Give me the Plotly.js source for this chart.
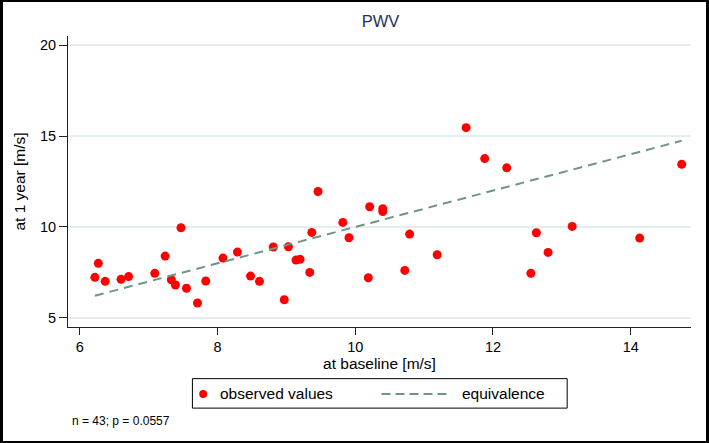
<!DOCTYPE html>
<html>
<head>
<meta charset="utf-8">
<script src="https://cdn.plot.ly/plotly-3.0.1.min.js"></script>
<style>
html,body{margin:0;padding:0;background:#fff;}
#wrap{position:relative;width:709px;height:443px;}
#chart{width:709px;height:443px;}
#frame{position:absolute;left:0;top:0;width:709px;height:443px;box-sizing:border-box;border-style:solid;border-color:#000;border-width:2px 3px 2px 3px;pointer-events:none;}
</style>
</head>
<body>
<div id="wrap"><div id="chart"></div><div id="frame"></div></div>
<script>
// PWV at baseline [m/s]
const baseline = [6.22, 6.27, 6.37, 6.60, 6.71, 7.09, 7.24, 7.33, 7.39, 7.47,
  7.55, 7.71, 7.83, 8.08, 8.29, 8.48, 8.61, 8.81, 8.97, 9.03,
  9.14, 9.20, 9.34, 9.37, 9.46, 9.82, 9.91, 10.19, 10.21, 10.40,
  10.40, 10.72, 10.79, 11.19, 11.61, 11.88, 12.20, 12.55, 12.63, 12.80,
  13.15, 14.13, 14.74];
// PWV at 1 year [m/s]
const oneYear = [7.23, 8.00, 7.01, 7.12, 7.27, 7.45, 8.40, 7.10, 6.81, 9.96,
  6.63, 5.82, 7.03, 8.29, 8.62, 7.30, 7.01, 8.90, 6.00, 8.91,
  8.18, 8.22, 7.50, 9.70, 11.95, 10.25, 9.41, 7.21, 11.11, 11.00,
  10.85, 7.61, 9.61, 8.47, 15.46, 13.76, 13.25, 7.45, 9.68, 8.60,
  10.03, 9.39, 13.45];
const xTicks = [6, 8, 10, 12, 14];
const yTicks = [5, 10, 15, 20];
const legendLabels = ['observed values', 'equivalence'];
const footnote = 'n = 43; p = 0.0557';

const xmin = Math.min(...baseline), xmax = Math.max(...baseline);
const eqX = [xmin, xmax];
const eqY = [xmin, xmax];

const font = "Liberation Sans, Arial, sans-serif";
const RED = '#ff0000', EQ = '#6f9586';

// plot-area geometry (px) for placing the hand-drawn legend in paper coords
const W = 709, H = 443, L = 68, R = 17.6, T = 36, B = 115.7;
const pw = W - L - R, ph = H - T - B;
const px = v => (v - L) / pw;
const py = v => (H - B - v) / ph;

const traces = [
  {x: baseline, y: oneYear, type: 'scatter', mode: 'markers', name: legendLabels[0],
   marker: {color: RED, size: 9, line: {width: 0}}},
  {x: eqX, y: eqY, type: 'scatter', mode: 'lines', name: legendLabels[1],
   line: {color: EQ, width: 2, dash: '9px,6px'}}
];

const shapes = [
  {type: 'rect', xref: 'paper', yref: 'paper', x0: px(192.5), x1: px(567.5), y0: py(379), y1: py(408.5),
   line: {color: '#000', width: 1}, fillcolor: '#fff', layer: 'above'},
  {type: 'circle', xref: 'paper', yref: 'paper', x0: px(199.3), x1: px(207.3), y0: py(390.3), y1: py(398.3),
   line: {width: 0}, fillcolor: RED, layer: 'above'},
  {type: 'line', xref: 'paper', yref: 'paper', x0: px(381.7), x1: px(450), y0: py(394.3), y1: py(394.3),
   line: {color: EQ, width: 2, dash: '9px,5px'}, layer: 'above'}
];

const layout = {
  width: W, height: H,
  margin: {l: L, r: R, t: T, b: B},
  paper_bgcolor: '#fff', plot_bgcolor: '#fff',
  font: {family: font, size: 14, color: '#000'},
  title: {text: 'PWV', font: {family: font, size: 16.5, color: '#1f2f5e'}, x: 380.5 / W, xanchor: 'center', y: 1 - 21 / H, yanchor: 'middle'},
  xaxis: {range: [5.83, 14.875], tickvals: xTicks, ticktext: xTicks.map(String),
    showgrid: false, zeroline: false, showline: true, linecolor: '#222', linewidth: 1,
    ticks: 'outside', ticklen: 7, tickcolor: '#222', tickfont: {size: 14.5},
    title: {text: 'at baseline [m/s]', font: {size: 15.5}, standoff: 2}},
  yaxis: {range: [4.5, 20.5], tickvals: yTicks, ticktext: yTicks.map(String),
    showgrid: true, gridcolor: '#e4eef0', gridwidth: 1.5, zeroline: false,
    showline: true, linecolor: '#222', linewidth: 1,
    ticks: 'outside', ticklen: 8, tickcolor: '#222', tickfont: {size: 14.5},
    title: {text: 'at 1 year [m/s]', font: {size: 15.5}, standoff: 10}},
  showlegend: false,
  shapes: shapes,
  annotations: [
    {text: legendLabels[0], xref: 'paper', yref: 'paper', x: px(218.5), y: py(394.3),
     xanchor: 'left', yanchor: 'middle', showarrow: false, font: {size: 15.5}},
    {text: legendLabels[1], xref: 'paper', yref: 'paper', x: px(460.5), y: py(394.3),
     xanchor: 'left', yanchor: 'middle', showarrow: false, font: {size: 15.5}},
    {text: footnote, xref: 'paper', yref: 'paper', x: px(70), y: py(421.7),
     xanchor: 'left', yanchor: 'middle', showarrow: false, font: {size: 12}}
  ]
};

Plotly.newPlot('chart', traces, layout, {displayModeBar: false, staticPlot: true});
</script>
</body>
</html>
